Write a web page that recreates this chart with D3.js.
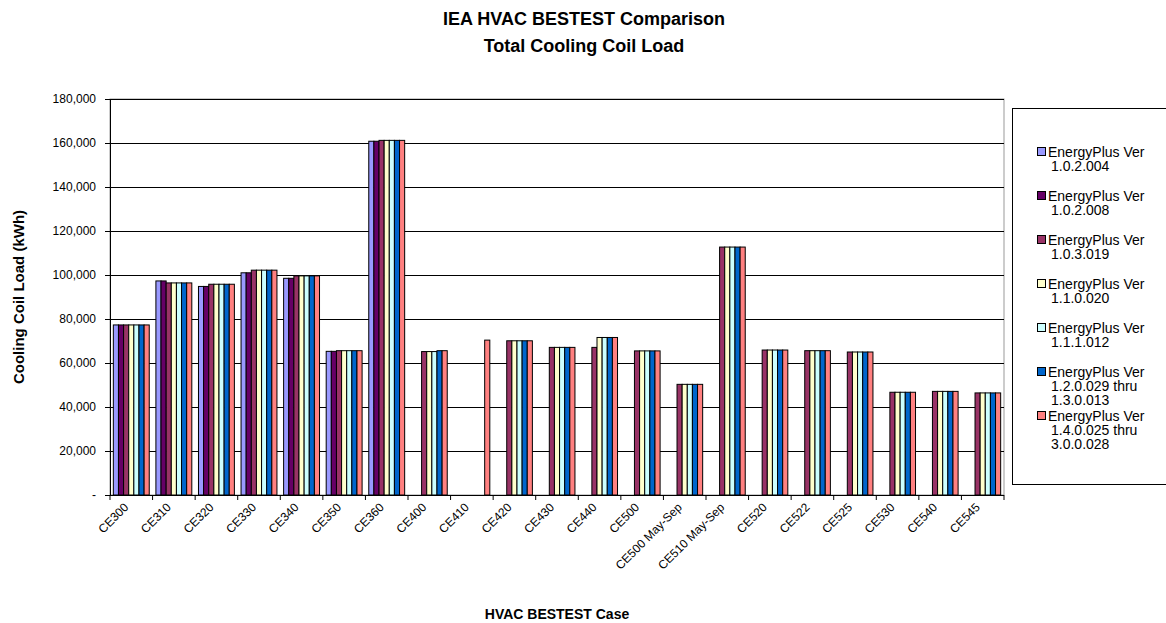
<!DOCTYPE html>
<html>
<head>
<meta charset="utf-8">
<script src="https://cdn.jsdelivr.net/npm/d3@7"></script>
<style>
  body { margin: 0; background: #fff; }
  svg { font-family: "Liberation Sans", Arial, sans-serif; }
</style>
</head>
<body>
<div id="chart"></div>
<script>
// categories on the x axis
const cases = ['CE300', 'CE310', 'CE320', 'CE330', 'CE340', 'CE350', 'CE360', 'CE400', 'CE410',
  'CE420', 'CE430', 'CE440', 'CE500', 'CE500 May-Sep', 'CE510 May-Sep', 'CE520', 'CE522',
  'CE525', 'CE530', 'CE540', 'CE545'];

const seriesNames = [
  ['EnergyPlus Ver', '1.0.2.004'],
  ['EnergyPlus Ver', '1.0.2.008'],
  ['EnergyPlus Ver', '1.0.3.019'],
  ['EnergyPlus Ver', '1.1.0.020'],
  ['EnergyPlus Ver', '1.1.1.012'],
  ['EnergyPlus Ver', '1.2.0.029 thru', '1.3.0.013'],
  ['EnergyPlus Ver', '1.4.0.025 thru', '3.0.0.028']
];

// kWh, null = no result for that version
const v1020004 = [77300, 97300, 94800, 101000, 98500, 65300, 160800, null, null, null, null, null, null, null, null, null, null, null, null, null, null];
const v1020008 = [77300, 97300, 94800, 101000, 98500, 65300, 160800, null, null, null, null, null, null, null, null, null, null, null, null, null, null];
const v1030019 = [77300, 96400, 95800, 102200, 99600, 65600, 161200, 65200, null, 70100, 67100, 67100, 65500, 50300, 112700, 65900, 65600, 65000, 46700, 47100, 46400];
const v1100020 = [77300, 96400, 95800, 102200, 99600, 65600, 161200, 65200, null, 70100, 67100, 71600, 65500, 50300, 112700, 65900, 65600, 65000, 46700, 47100, 46400];
const v1110012 = [77300, 96400, 95800, 102200, 99600, 65600, 161200, 65200, null, 70100, 67100, 71600, 65500, 50300, 112700, 65900, 65600, 65000, 46700, 47100, 46400];
const v1200029 = [77300, 96400, 95800, 102200, 99600, 65600, 161200, 65600, null, 70100, 67100, 71600, 65500, 50300, 112700, 65900, 65600, 65000, 46700, 47100, 46400];
const v1400025 = [77300, 96400, 95800, 102200, 99600, 65600, 161200, 65600, 70400, 70100, 67100, 71600, 65500, 50300, 112700, 65900, 65600, 65000, 46700, 47100, 46400];

const yTicks = [0, 20000, 40000, 60000, 80000, 100000, 120000, 140000, 160000, 180000];

const allSeries = [v1020004, v1020008, v1030019, v1100020, v1110012, v1200029, v1400025];
const colors = ['#9999ff', '#660066', '#993366', '#ffffcc', '#ccffff', '#0066cc', '#ff8080'];

const svgWidth = 1166, svgHeight = 623;
const plot = { left: 110, top: 99, right: 1004, bottom: 495 };

const svg = d3.select('#chart').append('svg')
  .attr('width', svgWidth)
  .attr('height', svgHeight);

// scales
const x = d3.scaleBand()
  .domain(cases)
  .range([plot.left, plot.right])
  .paddingInner(0)
  .paddingOuter(0);

const x1 = d3.scaleBand()
  .domain(d3.range(allSeries.length))
  .range([0, x.bandwidth()])
  .paddingOuter(0.65)
  .paddingInner(0);

const y = d3.scaleLinear()
  .domain([0, 180000])
  .range([plot.bottom, plot.top]);

// titles
svg.append('text')
  .attr('x', 584).attr('y', 25)
  .attr('text-anchor', 'middle')
  .style('font-size', '18px').style('font-weight', 'bold')
  .text('IEA HVAC BESTEST Comparison');
svg.append('text')
  .attr('x', 584).attr('y', 52)
  .attr('text-anchor', 'middle')
  .style('font-size', '18px').style('font-weight', 'bold')
  .text('Total Cooling Coil Load');

// plot area border
svg.append('rect')
  .attr('x', plot.left).attr('y', plot.top)
  .attr('width', plot.right - plot.left).attr('height', plot.bottom - plot.top)
  .attr('fill', 'none').attr('stroke', '#999');

// gridlines
svg.append('g')
  .selectAll('line')
  .data(yTicks.filter(d => d > 0))
  .join('line')
  .attr('x1', plot.left).attr('x2', plot.right)
  .attr('y1', d => Math.round(y(d)) + 0.5).attr('y2', d => Math.round(y(d)) + 0.5)
  .attr('stroke', '#000');

// bars
const groups = svg.append('g')
  .selectAll('g')
  .data(cases)
  .join('g')
  .attr('transform', d => `translate(${x(d)},0)`);

groups.selectAll('rect')
  .data((d, i) => allSeries.map((s, k) => ({ k: k, v: s[i] })).filter(e => e.v != null))
  .join('rect')
  .attr('x', d => x1(d.k))
  .attr('y', d => y(d.v))
  .attr('width', x1.bandwidth())
  .attr('height', d => y(0) - y(d.v))
  .attr('fill', d => colors[d.k])
  .attr('stroke', '#000')
  .attr('stroke-width', 1);

// y axis
const leftAxis = d3.axisLeft(y)
  .tickValues(yTicks)
  .tickSize(5)
  .tickSizeOuter(0)
  .tickFormat(d => d === 0 ? '-' : d3.format(',')(d));

const yAxisG = svg.append('g')
  .attr('transform', `translate(${plot.left},0)`)
  .call(leftAxis);
yAxisG.selectAll('text').style('font-size', '12px').attr('x', -14).attr('fill', '#000');
yAxisG.selectAll('line').attr('stroke', '#000');
yAxisG.select('.domain').attr('stroke', '#000');

// x axis (ticks between categories)
const xAxisG = svg.append('g');
xAxisG.append('line')
  .attr('x1', plot.left).attr('x2', plot.right)
  .attr('y1', plot.bottom + 0.5).attr('y2', plot.bottom + 0.5)
  .attr('stroke', '#000');
xAxisG.selectAll('.tk')
  .data(cases.concat(['end']))
  .join('line')
  .attr('class', 'tk')
  .attr('x1', (d, i) => plot.left + i * x.bandwidth())
  .attr('x2', (d, i) => plot.left + i * x.bandwidth())
  .attr('y1', plot.bottom).attr('y2', plot.bottom + 5)
  .attr('stroke', '#000');

xAxisG.selectAll('.lbl')
  .data(cases)
  .join('text')
  .attr('class', 'lbl')
  .attr('text-anchor', 'end')
  .attr('transform', d => `translate(${x(d) + x.bandwidth() / 2 - 8},${plot.bottom + 7}) rotate(-45)`)
  .attr('dy', '0.7em')
  .style('font-size', '12px')
  .text(d => d);

// axis titles
svg.append('text')
  .attr('text-anchor', 'middle')
  .attr('transform', `translate(24,${(plot.top + plot.bottom) / 2}) rotate(-90)`)
  .style('font-size', '15px').style('font-weight', 'bold')
  .text('Cooling Coil Load (kWh)');

svg.append('text')
  .attr('x', (plot.left + plot.right) / 2).attr('y', 619)
  .attr('text-anchor', 'middle')
  .style('font-size', '14px').style('font-weight', 'bold')
  .text('HVAC BESTEST Case');

// legend
const legend = svg.append('g');
legend.append('rect')
  .attr('x', 1012.5).attr('y', 108.5)
  .attr('width', 170).attr('height', 376)
  .attr('fill', '#fff').attr('stroke', '#000');

const items = legend.selectAll('.item')
  .data(seriesNames)
  .join('g')
  .attr('class', 'item')
  .attr('transform', (d, i) => `translate(1037,${152 + i * 44})`);

items.append('rect')
  .attr('x', 0.5).attr('y', -4.5)
  .attr('width', 8).attr('height', 8)
  .attr('fill', (d, i) => colors[i])
  .attr('stroke', '#000');

items.append('text')
  .style('font-size', '14px')
  .selectAll('tspan')
  .data(d => d)
  .join('tspan')
  .attr('x', (d, i) => i === 0 ? 11 : 14)
  .attr('y', (d, i) => i * 14 + 5)
  .text(d => d);
</script>
</body>
</html>
